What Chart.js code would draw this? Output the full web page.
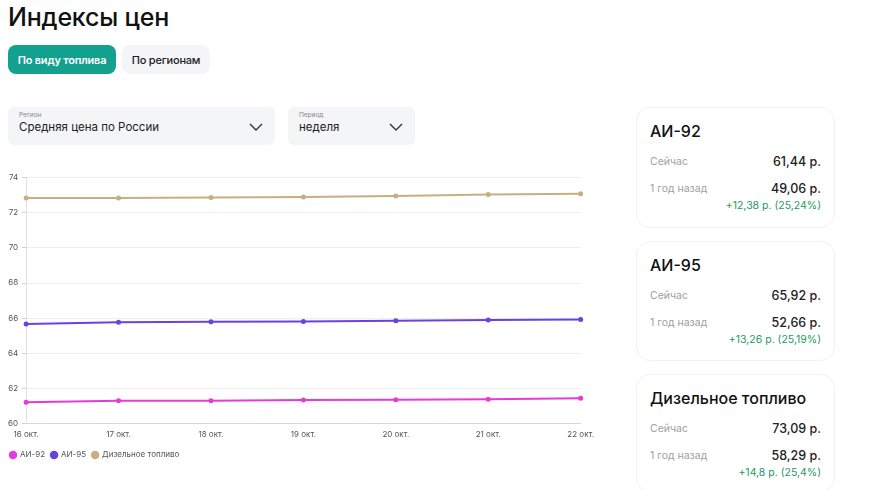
<!DOCTYPE html>
<html lang="ru">
<head>
<meta charset="utf-8">
<script src="https://cdn.jsdelivr.net/npm/chart.js@4/dist/chart.umd.min.js"></script>
<style>
  html, body { margin:0; padding:0; background:#fff; width:870px; height:490px; overflow:hidden; font-family: Inter, "Noto Sans", Roboto, sans-serif; color:#111; }
  .title { position:absolute; left:8px; top:2px; font-size:25px; font-weight:500; letter-spacing:-0.2px; }
  .btn { position:absolute; top:45px; height:29px; border-radius:8px; font-size:11px; font-weight:600; display:flex; align-items:center; justify-content:center; letter-spacing:-0.2px; }
  .b1 { left:8px; width:108px; background:#12a08f; color:#fff; }
  .b2 { left:122px; width:88px; background:#f4f5f7; color:#222; font-weight:500; }
  .dd { position:absolute; top:107px; height:38px; background:#f4f5f7; border-radius:6px; }
  .dd .lbl { position:absolute; left:11px; top:4px; font-size:6.5px; color:#888; }
  .dd .val { position:absolute; left:11px; top:13px; font-size:11.5px; color:#222; }
  .dd svg { position:absolute; right:12px; top:16px; }
  .card { position:absolute; left:636px; width:197px; border:1px solid #f0f1f3; border-radius:14px; background:#fff; }
  .card .h { position:absolute; left:13px; top:13px; font-size:16px; font-weight:500; color:#111; }
  .card .r { position:absolute; left:13px; right:13px; font-size:10.5px; color:#a0a0a0; }
  .card .r b { position:absolute; right:0; top:-1px; font-size:12.5px; font-weight:500; color:#222; }
  .card .d { position:absolute; right:13px; font-size:10.5px; color:#1d9a5e; }
  #wrap { position:absolute; left:0; top:169px; width:600px; height:300px; }
</style>
</head>
<body>
<div class="title">Индексы цен</div>
<div class="btn b1">По виду топлива</div>
<div class="btn b2">По регионам</div>

<div class="dd" style="left:8px;width:267px;">
  <div class="lbl">Регион</div>
  <div class="val">Средняя цена по России</div>
  <svg width="14" height="8" viewBox="0 0 14 8"><path d="M1 1 L7 7 L13 1" fill="none" stroke="#333" stroke-width="1.4"/></svg>
</div>
<div class="dd" style="left:288px;width:127px;">
  <div class="lbl">Период</div>
  <div class="val">неделя</div>
  <svg width="14" height="8" viewBox="0 0 14 8"><path d="M1 1 L7 7 L13 1" fill="none" stroke="#333" stroke-width="1.4"/></svg>
</div>

<div class="card" style="top:107px;height:119px;">
  <div class="h">АИ-92</div>
  <div class="r" style="top:47px;">Сейчас<b>61,44 р.</b></div>
  <div class="r" style="top:74px;">1 год назад<b>49,06 р.</b></div>
  <div class="d" style="top:91px;">+12,38 р. (25,24%)</div>
</div>
<div class="card" style="top:241px;height:118px;">
  <div class="h">АИ-95</div>
  <div class="r" style="top:47px;">Сейчас<b>65,92 р.</b></div>
  <div class="r" style="top:74px;">1 год назад<b>52,66 р.</b></div>
  <div class="d" style="top:91px;">+13,26 р. (25,19%)</div>
</div>
<div class="card" style="top:374px;height:116px;">
  <div class="h">Дизельное топливо</div>
  <div class="r" style="top:47px;">Сейчас<b>73,09 р.</b></div>
  <div class="r" style="top:74px;">1 год назад<b>58,29 р.</b></div>
  <div class="d" style="top:91px;">+14,8 р. (25,4%)</div>
</div>

<div id="wrap"><canvas id="c"></canvas></div>

<script>
const categories = ["16 окт.", "17 окт.", "18 окт.", "19 окт.", "20 окт.", "21 окт.", "22 окт."];
const ai92 = [61.21, 61.29, 61.29, 61.33, 61.35, 61.37, 61.44];
const ai95 = [65.67, 65.77, 65.79, 65.81, 65.85, 65.89, 65.92];
const diesel = [72.85, 72.85, 72.88, 72.90, 72.96, 73.05, 73.09];
const seriesNames = ["АИ-92", "АИ-95", "Дизельное топливо"];
const seriesColors = ["#e53bd9", "#6b42e0", "#c8b07e"];
const yTicks = [60, 62, 64, 66, 68, 70, 72, 74];

const seriesData = [ai92, ai95, diesel];
new Chart(document.getElementById('c'), {
  type: 'line',
  data: {
    labels: categories,
    datasets: seriesData.map((d, i) => ({
      label: seriesNames[i],
      data: d,
      borderColor: seriesColors[i],
      backgroundColor: seriesColors[i],
      borderWidth: 2,
      pointRadius: 2.5,
      pointBorderWidth: 0,
      tension: 0
    }))
  },
  options: {
    responsive: true,
    maintainAspectRatio: false,
    animation: false,
    layout: { padding: { left: 4, right: 8, top: 8, bottom: 0 } },
    scales: {
      x: {
        grid: { display: false, drawTicks: false },
        border: { color: '#d6d6d6' },
        ticks: { color: '#555', font: { size: 8, family: 'Inter, Roboto, sans-serif' }, maxRotation: 0, padding: 6 }
      },
      y: {
        min: yTicks[0], max: yTicks[yTicks.length - 1],
        afterBuildTicks: (ax) => { ax.ticks = yTicks.map(v => ({ value: v })); },
        grid: { color: '#efefef', tickLength: 4, tickColor: '#cfcfcf' },
        border: { color: '#e2e2e2' },
        ticks: { color: '#555', font: { size: 8, family: 'Inter, Roboto, sans-serif' }, padding: 4 }
      }
    },
    plugins: {
      legend: {
        position: 'bottom',
        align: 'start',
        labels: { usePointStyle: true, pointStyle: 'circle', boxWidth: 6, boxHeight: 6, padding: 6, color: '#555', font: { size: 8, family: 'Inter, Roboto, sans-serif' } }
      },
      tooltip: { enabled: false }
    }
  }
});
</script>
</body>
</html>
